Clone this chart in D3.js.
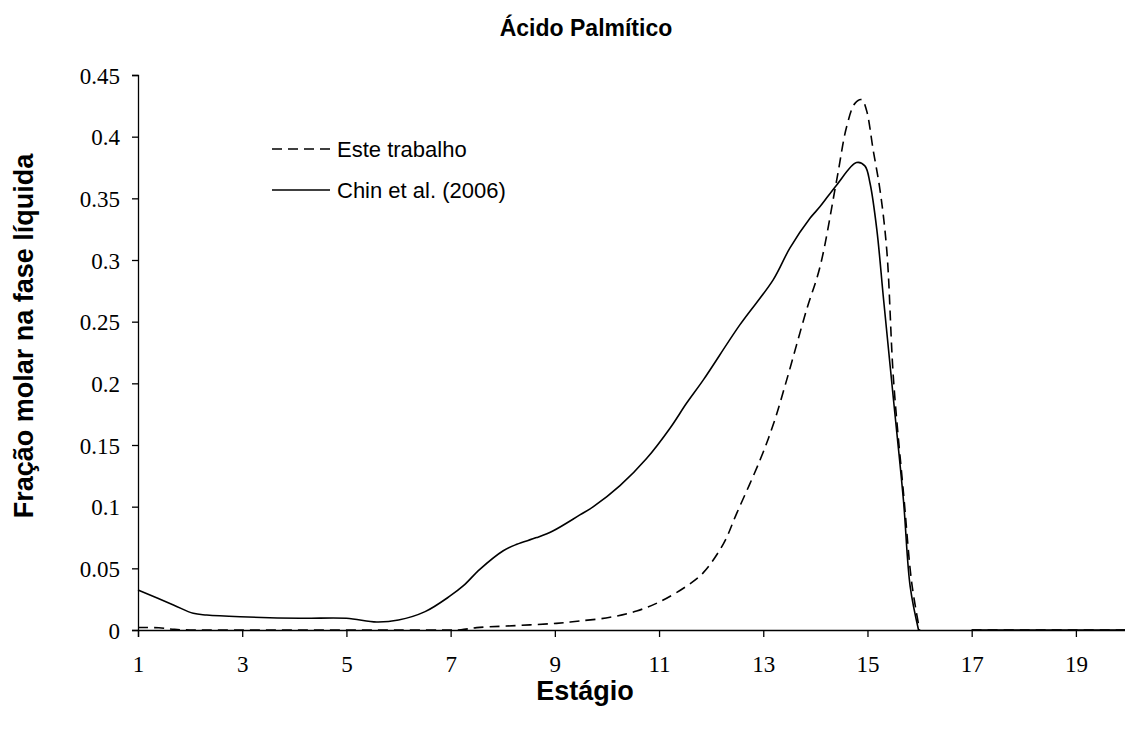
<!DOCTYPE html>
<html>
<head>
<meta charset="utf-8">
<script src="https://cdn.jsdelivr.net/npm/d3@7"></script>
<style>
	body { margin: 0; background: #fff; }
	svg { display: block; }
	.tick text { font-family: "Liberation Serif", "Times New Roman", serif; font-size: 23px; fill: #000; }
	.domain, .tick line { stroke: #000; stroke-width: 1.3; }
	.label { font-family: "Liberation Sans", Arial, sans-serif; font-weight: bold; fill: #000; }
	.legend text { font-family: "Liberation Sans", Arial, sans-serif; font-size: 22px; fill: #000; }
</style>
</head>
<body>
<svg id="chart" width="1125" height="733"></svg>
<script>
// data (stage, molar fraction)
const esteStage = [1, 1.4, 1.7, 2, 3, 4, 5, 6, 7, 7.2, 7.5, 8.07, 9.03, 9.48, 10.06, 10.57, 11.02, 11.56, 11.85, 12.24, 12.49, 12.94, 13.2, 13.45, 13.83, 14.09, 14.41, 14.6, 14.76, 14.89, 14.98, 15.11, 15.24, 15.37, 15.5, 15.7, 15.85, 16, null, 17, 18, 19, 20];
const esteValue = [0.002, 0.0018, 0.0005, 0, 0, 0, 0, 0, 0, 0.0002, 0.0019, 0.0032, 0.0054, 0.0073, 0.0103, 0.0154, 0.023, 0.0365, 0.0465, 0.0703, 0.0946, 0.138, 0.1676, 0.2028, 0.2595, 0.2946, 0.365, 0.408, 0.427, 0.43, 0.4217, 0.389, 0.3569, 0.3082, 0.2028, 0.107, 0.038, 0, null, 0, 0, 0, 0];

const chinStage = [1, 1.68, 2.06, 2.32, 2.96, 4.11, 5, 5.58, 6, 6.51, 6.99, 7.24, 7.56, 8.01, 8.27, 8.65, 8.97, 9.48, 9.74, 10.25, 10.76, 11.21, 11.53, 11.85, 12.55, 13.19, 13.51, 13.9, 14.09, 14.41, 14.79, 14.95, 15.05, 15.18, 15.31, 15.5, 15.69, 15.82, 15.98, null, 17, 18, 19, 20];
const chinValue = [0.0324, 0.0203, 0.0135, 0.0122, 0.0108, 0.0095, 0.0095, 0.0065, 0.0081, 0.0149, 0.0276, 0.0357, 0.0492, 0.0643, 0.0695, 0.0749, 0.0805, 0.0933, 0.1, 0.117, 0.139, 0.1636, 0.184, 0.2028, 0.2474, 0.2839, 0.3096, 0.334, 0.3433, 0.3609, 0.379, 0.3763, 0.362, 0.3244, 0.2676, 0.1865, 0.1054, 0.0351, 0, null, 0, 0, 0, 0];

const xTicks = [1, 3, 5, 7, 9, 11, 13, 15, 17, 19];
const yTicks = [0, 0.05, 0.1, 0.15, 0.2, 0.25, 0.3, 0.35, 0.4, 0.45];

const series = [
	{ name: "Este trabalho", stage: esteStage, value: esteValue, dash: "10,6" },
	{ name: "Chin et al. (2006)", stage: chinStage, value: chinValue, dash: null }
];

const svg = d3.select("#chart");

const x = d3.scaleLinear().domain([1, 20]).range([138, 1128]);
const y = d3.scaleLinear().domain([0, 0.45]).range([630, 75]);

svg.append("g")
	.attr("transform", "translate(0,630)")
	.call(d3.axisBottom(x).tickValues(xTicks).tickSize(7).tickPadding(19).tickFormat(d3.format("d")));

svg.append("g")
	.attr("transform", "translate(138,0)")
	.call(d3.axisLeft(y).tickValues(yTicks).tickSize(6).tickPadding(12).tickFormat(d => d === 0 ? "0" : String(d)))
	.call(g => g.selectAll(".tick text").attr("dy", "0.35em"));

const line = d3.line()
	.defined(d => d[0] !== null && d[1] !== null)
	.x(d => x(d[0]))
	.y(d => y(d[1]))
	.curve(d3.curveCatmullRom.alpha(0.5));

svg.append("g")
	.selectAll("path")
	.data(series).enter()
	.append("path")
	.attr("fill", "none")
	.attr("stroke", "#000")
	.attr("stroke-width", 1.6)
	.attr("stroke-dasharray", d => d.dash)
	.attr("d", d => line(d.stage.map((s, i) => [s, d.value[i]])));

// legend
const legend = svg.append("g").classed("legend", true);
legend.selectAll("line")
	.data(series).enter()
	.append("line")
	.attr("x1", 272).attr("x2", 330)
	.attr("y1", (d, i) => 149 + i * 41)
	.attr("y2", (d, i) => 149 + i * 41)
	.attr("stroke", "#000")
	.attr("stroke-width", 1.6)
	.attr("stroke-dasharray", d => d.dash);
legend.selectAll("text")
	.data(series).enter()
	.append("text")
	.attr("x", 337)
	.attr("y", (d, i) => 157 + i * 41)
	.text(d => d.name);

svg.append("text").classed("label", true)
	.attr("x", 586).attr("y", 36)
	.attr("text-anchor", "middle")
	.style("font-size", "23px")
	.text("Ácido Palmítico");

svg.append("text").classed("label", true)
	.attr("x", 585).attr("y", 700)
	.attr("text-anchor", "middle")
	.style("font-size", "27px")
	.text("Estágio");

svg.append("text").classed("label", true)
	.attr("transform", "translate(33,336) rotate(-90)")
	.attr("text-anchor", "middle")
	.style("font-size", "27px")
	.text("Fração molar na fase líquida");
</script>
</body>
</html>
